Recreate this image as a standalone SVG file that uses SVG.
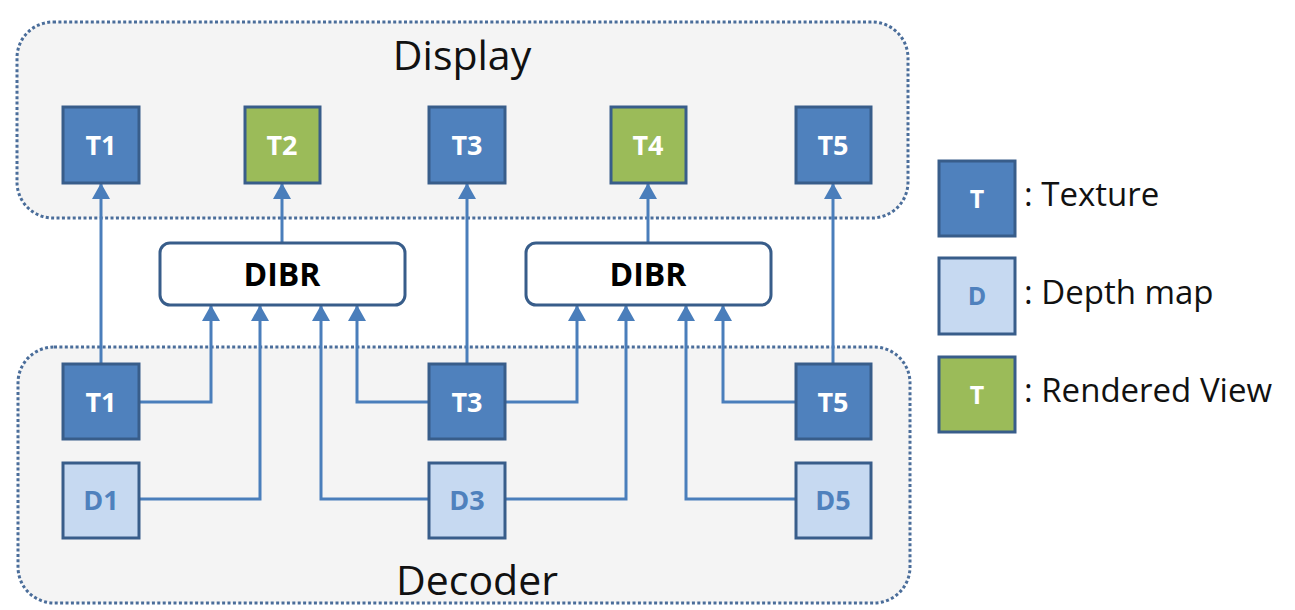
<svg xmlns="http://www.w3.org/2000/svg" width="1295" height="610" viewBox="0 0 1295 610">
<style>
.cont{fill:#f4f4f4;stroke:#4a6d9a;stroke-width:3;stroke-dasharray:3 2.4}
.tex{fill:#4f81bd;stroke:#385d8a;stroke-width:3}
.ren{fill:#9bbb59;stroke:#385d8a;stroke-width:3}
.dep{fill:#c6d9f1;stroke:#385d8a;stroke-width:3}
.dibr{fill:#ffffff;stroke:#385d8a;stroke-width:3}
.lbl{font-family:"Open Sans","Liberation Sans",sans-serif;font-weight:bold;font-size:27px;text-anchor:middle;fill:#ffffff}
.sm{font-size:25px}
.dl{fill:#4f81bd}
.big{font-family:"Open Sans","Liberation Sans",sans-serif;font-size:41px;text-anchor:middle;fill:#111111}
.dt{font-family:"Open Sans","Liberation Sans",sans-serif;font-weight:bold;font-size:32px;text-anchor:middle;fill:#000000}
.leg{font-family:"Open Sans","Liberation Sans",sans-serif;font-size:33px;fill:#111111}
.conn path{fill:none;stroke:#4a7ebb;stroke-width:3;marker-end:url(#ah)}
</style>
<defs>
<marker id="ah" markerUnits="userSpaceOnUse" markerWidth="18" markerHeight="18" refX="15" refY="9" orient="auto">
<path d="M0,0 L16,9 L0,18 z" fill="#4a7ebb"/>
</marker>
</defs>
<g id="display">
<rect class="cont" x="17" y="22" width="891" height="196" rx="36"/>
<text class="big" x="462" y="70">Display</text>
</g>
<g id="decoder">
<rect class="cont" x="18" y="347" width="892" height="256" rx="36"/>
<text class="big" x="477" y="595">Decoder</text>
</g>
<g class="conn" id="connectors">
<path d="M101,364 V184"/>
<path d="M467,364 V184"/>
<path d="M833,364 V184"/>
<path d="M282,243 V184"/>
<path d="M648,243 V184"/>
<path d="M139,402 H211 V306"/>
<path d="M139,499 H260 V306"/>
<path d="M429,499 H321 V306"/>
<path d="M429,402 H357 V306"/>
<path d="M505,402 H577 V306"/>
<path d="M505,499 H626 V306"/>
<path d="M796,499 H686 V306"/>
<path d="M796,402 H723 V306"/>
</g>
<g id="top-T1"><rect class="tex" x="63" y="107" width="76" height="76"/><text class="lbl" x="101" y="155">T1</text></g>
<g id="top-T2"><rect class="ren" x="245" y="107" width="75" height="76"/><text class="lbl" x="282" y="155">T2</text></g>
<g id="top-T3"><rect class="tex" x="429" y="107" width="76" height="76"/><text class="lbl" x="467" y="155">T3</text></g>
<g id="top-T4"><rect class="ren" x="611" y="107" width="75" height="76"/><text class="lbl" x="648" y="155">T4</text></g>
<g id="top-T5"><rect class="tex" x="796" y="107" width="75" height="76"/><text class="lbl" x="833" y="155">T5</text></g>
<g id="dibr-left"><rect class="dibr" x="160" y="243" width="245" height="62" rx="10"/><text class="dt" x="282" y="286">DIBR</text></g>
<g id="dibr-right"><rect class="dibr" x="526" y="243" width="245" height="62" rx="10"/><text class="dt" x="648" y="286">DIBR</text></g>
<g id="dec-T1"><rect class="tex" x="63" y="364" width="76" height="75"/><text class="lbl" x="101" y="412">T1</text></g>
<g id="dec-T3"><rect class="tex" x="429" y="364" width="76" height="75"/><text class="lbl" x="467" y="412">T3</text></g>
<g id="dec-T5"><rect class="tex" x="796" y="364" width="75" height="75"/><text class="lbl" x="833" y="412">T5</text></g>
<g id="dec-D1"><rect class="dep" x="63" y="463" width="76" height="75"/><text class="lbl dl" x="101" y="510">D1</text></g>
<g id="dec-D3"><rect class="dep" x="429" y="463" width="76" height="75"/><text class="lbl dl" x="467" y="510">D3</text></g>
<g id="dec-D5"><rect class="dep" x="796" y="463" width="75" height="75"/><text class="lbl dl" x="833" y="510">D5</text></g>
<g id="legend-texture"><rect class="tex" x="939" y="161" width="76" height="75"/><text class="lbl sm" x="977" y="208">T</text><text class="leg" x="1024" y="206">: Texture</text></g>
<g id="legend-depth"><rect class="dep" x="939" y="258" width="76" height="76"/><text class="lbl sm dl" x="977" y="305">D</text><text class="leg" x="1024" y="304">: Depth map</text></g>
<g id="legend-rendered"><rect class="ren" x="939" y="357" width="76" height="75"/><text class="lbl sm" x="977" y="404">T</text><text class="leg" x="1024" y="402">: Rendered View</text></g>
</svg>
